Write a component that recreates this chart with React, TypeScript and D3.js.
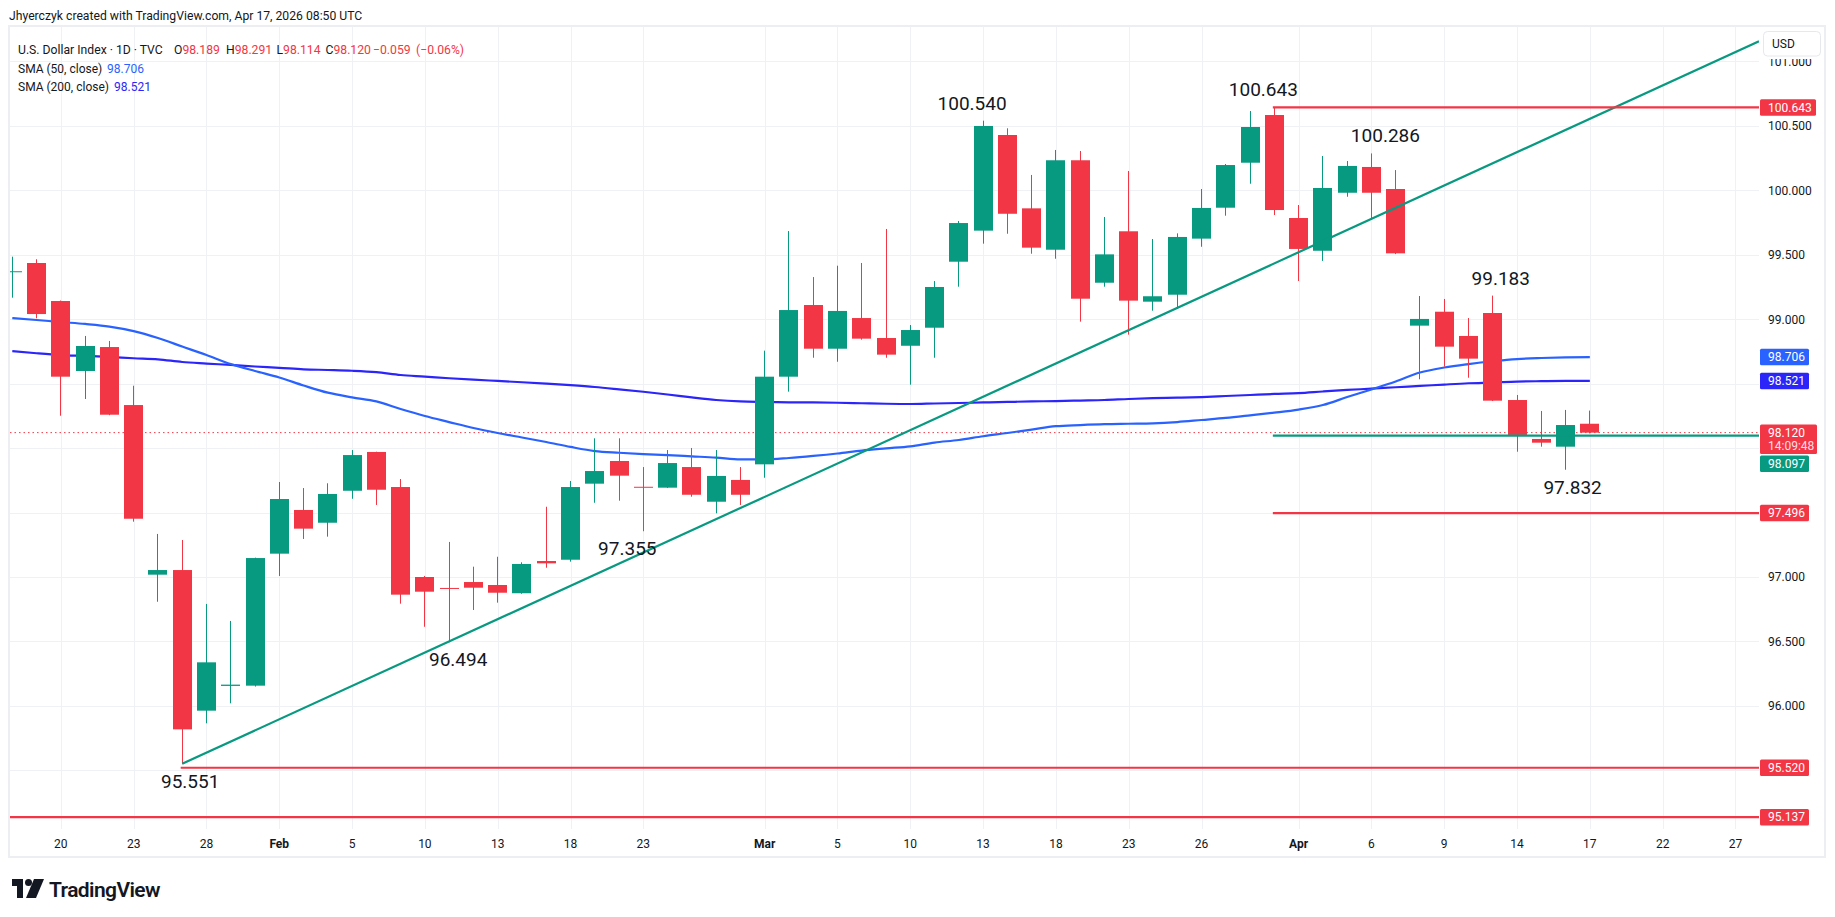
import React from 'react';
import * as d3 from 'd3';

// daily bars, U.S. Dollar Index (TVC), 1D
const dates = [
  '2026-01-16', '2026-01-19', '2026-01-20', '2026-01-21', '2026-01-22', '2026-01-23', '2026-01-26', '2026-01-27', '2026-01-28', '2026-01-29', '2026-01-30',
  '2026-02-02', '2026-02-03', '2026-02-04', '2026-02-05', '2026-02-06', '2026-02-09', '2026-02-10', '2026-02-11', '2026-02-12', '2026-02-13',
  '2026-02-16', '2026-02-17', '2026-02-18', '2026-02-19', '2026-02-20', '2026-02-23', '2026-02-24', '2026-02-25', '2026-02-26', '2026-02-27',
  '2026-03-02', '2026-03-03', '2026-03-04', '2026-03-05', '2026-03-06', '2026-03-09', '2026-03-10', '2026-03-11', '2026-03-12', '2026-03-13',
  '2026-03-16', '2026-03-17', '2026-03-18', '2026-03-19', '2026-03-20', '2026-03-23', '2026-03-24', '2026-03-25', '2026-03-26', '2026-03-27',
  '2026-03-30', '2026-03-31', '2026-04-01', '2026-04-02', '2026-04-03', '2026-04-06', '2026-04-07', '2026-04-08', '2026-04-09', '2026-04-10',
  '2026-04-13', '2026-04-14', '2026-04-15', '2026-04-16', '2026-04-17',
];
const futureDates = ['2026-04-20', '2026-04-21', '2026-04-22', '2026-04-23', '2026-04-24', '2026-04-27'];

const openPrices = [
  99.365, 99.436, 99.141, 98.598, 98.784, 98.334, 97.018, 97.054, 95.963, 96.155, 96.157,
  97.181, 97.520, 97.421, 97.669, 97.970, 97.698, 97.000, 96.915, 96.961, 96.938,
  96.874, 97.124, 97.134, 97.724, 97.900, 97.700, 97.693, 97.853, 97.584, 97.753,
  97.874, 98.554, 99.110, 98.771, 99.009, 98.854, 98.794, 98.934, 99.446, 99.687,
  100.429, 99.860, 99.539, 100.233, 99.283, 99.682, 99.136, 99.190, 99.625, 99.865,
  100.214, 100.584, 99.785, 99.531, 99.981, 100.181, 100.010, 98.950, 99.058, 98.870,
  99.048, 98.373, 98.071, 98.011, 98.189,
];
const highPrices = [
  99.485, 99.465, 99.145, 98.870, 98.831, 98.484, 97.334, 97.287, 96.791, 96.659, 97.150,
  97.737, 97.690, 97.727, 97.985, 97.972, 97.760, 97.008, 97.272, 97.080, 97.157,
  97.114, 97.545, 97.745, 98.076, 98.076, 97.853, 97.985, 98.001, 97.985, 97.853,
  98.756, 99.684, 99.327, 99.415, 99.436, 99.700, 98.955, 99.296, 99.762, 100.540,
  100.481, 100.119, 100.313, 100.305, 99.793, 100.150, 99.622, 99.666, 100.010, 100.204,
  100.615, 100.643, 99.886, 100.266, 100.227, 100.286, 100.157, 99.180, 99.157, 99.009,
  99.183, 98.412, 98.288, 98.296, 98.291,
];
const lowPrices = [
  99.167, 99.007, 98.251, 98.381, 98.255, 97.429, 96.808, 95.551, 95.865, 96.020, 96.150,
  97.008, 97.295, 97.313, 97.607, 97.559, 96.793, 96.614, 96.494, 96.744, 96.801,
  96.870, 97.072, 97.119, 97.576, 97.592, 97.355, 97.690, 97.623, 97.494, 97.559,
  97.770, 98.438, 98.701, 98.670, 98.841, 98.701, 98.492, 98.701, 99.252, 99.586,
  99.663, 99.508, 99.469, 98.981, 99.252, 98.880, 99.066, 99.079, 99.562, 99.803,
  100.051, 99.808, 99.296, 99.452, 99.950, 99.770, 99.505, 98.534, 98.632, 98.546,
  98.365, 97.972, 98.011, 97.832, 98.114,
];
const closePrices = [
  99.372, 99.040, 98.554, 98.792, 98.259, 97.452, 97.054, 95.818, 96.338, 96.165, 97.147,
  97.605, 97.375, 97.644, 97.946, 97.677, 96.863, 96.886, 96.910, 96.917, 96.878,
  97.101, 97.106, 97.698, 97.822, 97.786, 97.695, 97.884, 97.638, 97.784, 97.638,
  98.554, 99.071, 98.771, 99.064, 98.849, 98.725, 98.916, 99.250, 99.746, 100.499,
  99.818, 99.555, 100.233, 99.159, 99.503, 99.144, 99.178, 99.638, 99.863, 100.196,
  100.491, 99.847, 99.545, 100.018, 100.189, 99.981, 99.511, 99.002, 98.787, 98.694,
  98.368, 98.102, 98.042, 98.179, 98.120,
];

const sma50 = [
  99.009, 98.994, 98.978, 98.963, 98.943, 98.908, 98.854, 98.788, 98.722, 98.652,
  98.598, 98.548, 98.486, 98.430, 98.393, 98.362, 98.303, 98.249, 98.202, 98.156,
  98.117, 98.082, 98.047, 98.009, 97.977, 97.964, 97.954, 97.946, 97.936, 97.926,
  97.912, 97.912, 97.923, 97.939, 97.958, 97.981, 97.998, 98.014, 98.043, 98.063,
  98.092, 98.117, 98.144, 98.170, 98.179, 98.186, 98.189, 98.192, 98.202, 98.218,
  98.234, 98.254, 98.275, 98.299, 98.334, 98.396, 98.455, 98.517, 98.586, 98.625,
  98.652, 98.674, 98.691, 98.699, 98.704, 98.706,
];
const sma200 = [
  98.753, 98.736, 98.722, 98.715, 98.707, 98.697, 98.689, 98.668, 98.656, 98.645,
  98.633, 98.623, 98.611, 98.606, 98.600, 98.589, 98.567, 98.555, 98.542, 98.531,
  98.521, 98.511, 98.500, 98.488, 98.474, 98.456, 98.437, 98.416, 98.393, 98.373,
  98.362, 98.358, 98.355, 98.354, 98.352, 98.348, 98.344, 98.342, 98.346, 98.350,
  98.354, 98.358, 98.362, 98.365, 98.369, 98.373, 98.381, 98.387, 98.391, 98.396,
  98.404, 98.412, 98.420, 98.426, 98.439, 98.451, 98.461, 98.472, 98.482, 98.493,
  98.503, 98.509, 98.516, 98.519, 98.521, 98.521,
];

const timeTickDates = [
  '2026-01-20', '2026-01-23', '2026-01-28', '2026-02-02', '2026-02-05', '2026-02-10', '2026-02-13', '2026-02-18',
  '2026-02-23', '2026-03-02', '2026-03-05', '2026-03-10', '2026-03-13', '2026-03-18', '2026-03-23', '2026-03-26',
  '2026-04-01', '2026-04-06', '2026-04-09', '2026-04-14', '2026-04-17', '2026-04-22', '2026-04-27',
];
const timeTickLabels = ['20', '23', '28', 'Feb', '5', '10', '13', '18', '23', 'Mar', '5', '10', '13', '18', '23', '26', 'Apr', '6', '9', '14', '17', '22', '27'];
const monthLabels = ['Feb', 'Mar', 'Apr'];

// drawn levels
const redLevelValues = [100.643, 97.496, 95.520, 95.137];
const redLevelStarts = ['2026-03-31', '2026-03-31', '2026-01-27', null];
const greenLevelValue = 98.097;
const greenLevelStart = '2026-03-31';
const trendAnchorDates = ['2026-01-27', '2026-02-11'];
const trendAnchorValues = [95.551, 96.5];

// swing labels
const noteTexts = ['100.540', '100.643', '100.286', '99.183', '97.832', '97.355', '96.494', '95.551'];
const noteDates = ['2026-03-13', '2026-03-31', '2026-04-06', '2026-04-13', '2026-04-16', '2026-02-23', '2026-02-11', '2026-01-27'];
const noteAbove = [true, true, true, true, false, false, false, false];

const UP = '#089981';
const DOWN = '#f23645';
const SMA50_COLOR = '#2962ff';
const SMA200_COLOR = '#2b25fa';
const TEXT = '#131722';
const GRID = '#f0f1f4';
const FONT = 'Roboto, "Noto Sans", sans-serif';

const W = 1835;
const H = 917;
const pane = { left: 10, right: 1759, top: 27, bottom: 829 };

const fmt = (v: number) => v.toFixed(3);

const App: React.FC = () => {
  const allDates = [...dates, ...futureDates];
  const step = 24.27;
  const x = d3.scalePoint<string>()
    .domain(allDates)
    .range([12.3, 12.3 + (allDates.length - 1) * step]);
  const y = d3.scaleLinear().domain([95, 101]).range([834.8, 61.4]);

  const idxOf = (d: string) => allDates.indexOf(d);
  const xOfIdx = (i: number) => 12.3 + i * step;

  const priceTicks = y.ticks(12).filter(t => y(t) > pane.top && y(t) < pane.bottom);

  const smaLine = d3.line<number>()
    .x((_, i) => x(dates[i]) ?? 0)
    .y(v => y(v))
    .curve(d3.curveMonotoneX);

  // trend line extended to the right edge of the pane
  const i0 = idxOf(trendAnchorDates[0]);
  const i1 = idxOf(trendAnchorDates[1]);
  const slope = (trendAnchorValues[1] - trendAnchorValues[0]) / (i1 - i0);
  const iEnd = (pane.right - 12.3) / step;
  const trendEndValue = trendAnchorValues[0] + slope * (iEnd - i0);

  const last = dates.length - 1;

  // price axis labels, pushed apart when they collide
  type Box = { value: number; color: string; text: string; sub?: string; h: number; top: number };
  const boxes: Box[] = [
    { value: redLevelValues[0], color: DOWN, text: fmt(redLevelValues[0]), h: 16.5, top: 0 },
    { value: sma50[last], color: SMA50_COLOR, text: fmt(sma50[last]), h: 16.5, top: 0 },
    { value: sma200[last], color: SMA200_COLOR, text: fmt(sma200[last]), h: 16.5, top: 0 },
    { value: closePrices[last], color: DOWN, text: fmt(closePrices[last]), sub: '14:09:48', h: 29.5, top: 0 },
    { value: greenLevelValue, color: UP, text: fmt(greenLevelValue), h: 16.5, top: 0 },
    { value: redLevelValues[1], color: DOWN, text: fmt(redLevelValues[1]), h: 16.5, top: 0 },
    { value: redLevelValues[2], color: DOWN, text: fmt(redLevelValues[2]), h: 16.5, top: 0 },
    { value: redLevelValues[3], color: DOWN, text: fmt(redLevelValues[3]), h: 16.5, top: 0 },
  ];
  let prevBottom = -Infinity;
  boxes.forEach(b => {
    b.top = Math.max(y(b.value) - 8.25, prevBottom + 1.5);
    prevBottom = b.top + b.h;
  });
  const hiddenTick = (t: number) => boxes.some(b => y(t) > b.top - 6 && y(t) < b.top + b.h + 6);

  const noteOffsets = [-11, -11, 14, 8, 7, -16, 9, 8];

  return (
    <svg width={W} height={H} style={{ position: 'fixed', left: 0, top: 0, background: '#fff' }} fontFamily={FONT}>
      <defs>
        <clipPath id="pane">
          <rect x={pane.left} y={pane.top} width={pane.right - pane.left} height={pane.bottom - pane.top} />
        </clipPath>
      </defs>
      <rect width={W} height={H} fill="#fff" />

      <text x={9} y={19.5} fontSize={12.2} fill={TEXT}>Jhyerczyk created with TradingView.com, Apr 17, 2026 08:50 UTC</text>

      {/* frame */}
      <rect x={9} y={26} width={1816} height={831} fill="none" stroke="#eceef1" strokeWidth={2} />

      {/* grid */}
      <g clipPath="url(#pane)">
        {priceTicks.map(t => (
          <line key={'h' + t} x1={pane.left} x2={pane.right} y1={Math.round(y(t)) + 0.5} y2={Math.round(y(t)) + 0.5} stroke={GRID} />
        ))}
        {timeTickDates.map(d => (
          <line key={'v' + d} x1={Math.round(x(d) ?? 0) + 0.5} x2={Math.round(x(d) ?? 0) + 0.5} y1={pane.top} y2={pane.bottom} stroke={GRID} />
        ))}
      </g>

      <g clipPath="url(#pane)">
        {/* current price dotted line */}
        <line x1={pane.left} x2={pane.right} y1={y(closePrices[last])} y2={y(closePrices[last])} stroke={DOWN} strokeWidth={1} strokeDasharray="1.5 3" />

        {/* moving averages */}
        <path d={smaLine(sma200) ?? ''} fill="none" stroke={SMA200_COLOR} strokeWidth={2.2} />
        <path d={smaLine(sma50) ?? ''} fill="none" stroke={SMA50_COLOR} strokeWidth={2.2} />

        {/* candles */}
        {dates.map((d, i) => {
          const o = openPrices[i], c = closePrices[i];
          const color = c >= o ? UP : DOWN;
          const cx = x(d) ?? 0;
          const bx = Math.round(cx - 9.5);
          const wx = bx + 9.5;
          const top = y(Math.max(o, c));
          const bh = Math.max(1, Math.abs(y(o) - y(c)));
          return (
            <g key={d}>
              <line x1={wx} x2={wx} y1={y(highPrices[i])} y2={y(lowPrices[i])} stroke={color} strokeWidth={1} />
              <rect x={bx} y={top} width={19} height={bh} fill={color} />
            </g>
          );
        })}

        {/* trend line */}
        <line x1={x(trendAnchorDates[0])} y1={y(trendAnchorValues[0])} x2={pane.right} y2={y(trendEndValue)} stroke={UP} strokeWidth={2.2} />

        {/* levels */}
        {redLevelValues.map((v, k) => {
          const s = redLevelStarts[k];
          const x1 = s ? (x(s) ?? 0) - 1.5 : pane.left;
          return <line key={'r' + k} x1={x1} x2={pane.right} y1={y(v)} y2={y(v)} stroke={DOWN} strokeWidth={2.2} />;
        })}
        <line x1={(x(greenLevelStart) ?? 0) - 1.5} x2={pane.right} y1={y(greenLevelValue)} y2={y(greenLevelValue)} stroke={UP} strokeWidth={2.2} />

        {/* swing labels */}
        {noteTexts.map((t, k) => {
          const i = idxOf(noteDates[k]);
          const v = parseFloat(t);
          const cx = xOfIdx(i) + noteOffsets[k];
          const yy = noteAbove[k] ? y(v) - 11 : y(v) + 24;
          return (
            <text key={t} x={cx} y={yy} fontSize={19} fill={TEXT} textAnchor="middle">{t}</text>
          );
        })}
      </g>

      {/* price axis */}
      {priceTicks.filter(t => !hiddenTick(t)).map(t => (
        <text key={'pt' + t} x={1768} y={y(t) + 4.3} fontSize={12} fill={TEXT}>{fmt(t)}</text>
      ))}
      {boxes.map((b, k) => (
        <g key={'b' + k}>
          <rect x={1760} y={b.top} width={b.sub ? 57 : (b.text.length > 6 ? 56 : 49)} height={b.h} fill={b.color} rx={1.5} />
          <text x={1768} y={b.top + 12.5} fontSize={12} fill="#fff">{b.text}</text>
          {b.sub && <text x={1768} y={b.top + 26} fontSize={12} fill="#ffdfe2">{b.sub}</text>}
        </g>
      ))}

      {/* currency button */}
      <rect x={1760} y={27} width={64} height={32} fill="#fff" />
      <rect x={1763.5} y={31.5} width={57} height={24.5} rx={4} fill="#fff" stroke="#e6e8ec" />
      <text x={1772} y={48} fontSize={12} fill={TEXT}>USD</text>

      {/* time axis */}
      {timeTickDates.map((d, k) => (
        <text key={'tt' + d} x={x(d)} y={848} fontSize={12} fill={TEXT} textAnchor="middle"
          fontWeight={monthLabels.includes(timeTickLabels[k]) ? 700 : 400}>{timeTickLabels[k]}</text>
      ))}

      {/* legend */}
      <text y={53.5} fontSize={12.2} fill={TEXT}>
        <tspan x={18}>U.S. Dollar Index · 1D · TVC</tspan>
        <tspan x={174}>O</tspan><tspan fill={DOWN}>{fmt(openPrices[last])}</tspan>
        <tspan x={226}>H</tspan><tspan fill={DOWN}>{fmt(highPrices[last])}</tspan>
        <tspan x={276.5}>L</tspan><tspan fill={DOWN}>{fmt(lowPrices[last])}</tspan>
        <tspan x={325.5}>C</tspan><tspan fill={DOWN}>{fmt(closePrices[last])}</tspan>
        <tspan x={373} fill={DOWN}>−0.059</tspan>
        <tspan x={416} fill={DOWN}>(−0.06%)</tspan>
      </text>
      <text y={72.5} fontSize={12} fill={TEXT}>
        <tspan x={18}>SMA (50, close)</tspan>
        <tspan x={107} fill={SMA50_COLOR}>{fmt(sma50[last])}</tspan>
      </text>
      <text y={91} fontSize={12} fill={TEXT}>
        <tspan x={18}>SMA (200, close)</tspan>
        <tspan x={114} fill={SMA200_COLOR}>{fmt(sma200[last])}</tspan>
      </text>

      {/* TradingView logo */}
      <g fill={TEXT}>
        <path d="M12,879 H23 V898 H17 V886 H12 Z" />
        <circle cx={28.5} cy={882.5} r={3.5} />
        <path d="M34,879 H44 L36,898 H26 Z" />
        <text x={49} y={897} fontSize={21} fontWeight={600} letterSpacing={-0.6}>TradingView</text>
      </g>
    </svg>
  );
};

export default App;
